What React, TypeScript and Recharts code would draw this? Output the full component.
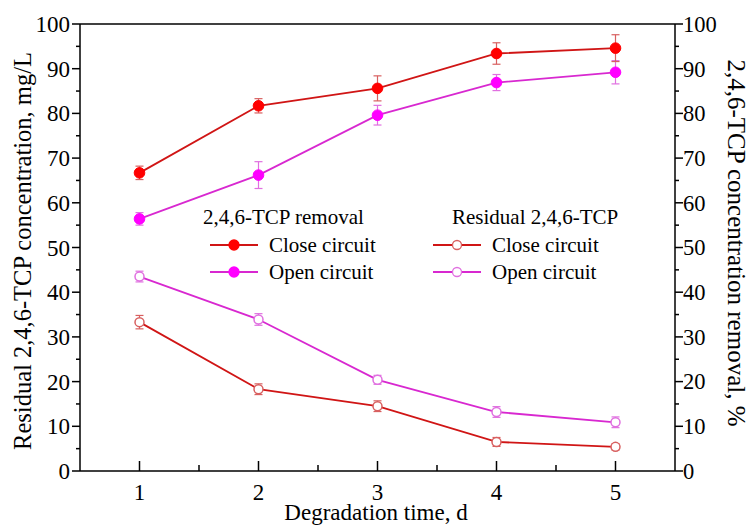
import React from 'react';
import { ComposedChart, Line, XAxis, YAxis, ErrorBar, ReferenceLine, Customized } from 'recharts';

const days = [1, 2, 3, 4, 5];
const removalClose = [66.7, 81.7, 85.6, 93.4, 94.6];
const removalCloseErr = [1.5, 1.6, 2.8, 2.4, 3.0];
const removalOpen = [56.4, 66.2, 79.6, 86.9, 89.2];
const removalOpenErr = [1.4, 3.0, 2.2, 1.8, 2.6];
const residualClose = [33.3, 18.3, 14.5, 6.5, 5.4];
const residualCloseErr = [1.5, 1.2, 1.2, 1.0, 0.7];
const residualOpen = [43.5, 33.9, 20.4, 13.2, 10.9];
const residualOpenErr = [1.2, 1.3, 1.0, 1.2, 1.2];

const yTicks = [0, 5, 10, 15, 20, 25, 30, 35, 40, 45, 50, 55, 60, 65, 70, 75, 80, 85, 90, 95, 100];
const xTicks = [1, 1.5, 2, 2.5, 3, 3.5, 4, 4.5, 5];

const data = days.map((d, i) => ({
  day: d,
  rc: removalClose[i], rcErr: removalCloseErr[i],
  ro: removalOpen[i], roErr: removalOpenErr[i],
  sc: residualClose[i], scErr: residualCloseErr[i],
  so: residualOpen[i], soErr: residualOpenErr[i],
}));

const FONT = "'Liberation Serif', 'Times New Roman', Times, serif";
const RED = '#ff0000';
const RED_LINE = '#d01515';
const RED_ERR = '#d86060';
const MAG = '#ff00ff';
const MAG_LINE = '#d828d0';
const MAG_ERR = '#e070e0';

const LeftTick = (props: any) => {
  const { x, y, payload } = props;
  const v = payload.value;
  const major = v % 10 === 0;
  return (
    <g>
      <line x1={x} x2={x - (major ? 8 : 4)} y1={y} y2={y} stroke="#000" strokeWidth={1.5} />
      {major && (
        <text x={x - 10} y={y} dy="0.35em" textAnchor="end" fontSize={23} style={{ fontFamily: FONT }} fill="#000">{v}</text>
      )}
    </g>
  );
};

const RightTick = (props: any) => {
  const { x, y, payload } = props;
  const v = payload.value;
  const major = v % 10 === 0;
  return (
    <g>
      <line x1={x} x2={x + (major ? 8 : 4)} y1={y} y2={y} stroke="#000" strokeWidth={1.5} />
      {major && (
        <text x={x + 8} y={y} dy="0.35em" textAnchor="start" fontSize={22.5} style={{ fontFamily: FONT }} fill="#000">{v}</text>
      )}
    </g>
  );
};

const BottomTick = (props: any) => {
  const { x, y, payload } = props;
  const v = payload.value;
  const major = Number.isInteger(v);
  return (
    <g>
      <line x1={x} x2={x} y1={y} y2={y - (major ? 10 : 6)} stroke="#000" strokeWidth={1.5} />
      {major && (
        <text x={x} y={y + 21} dy="0.35em" textAnchor="middle" fontSize={23} style={{ fontFamily: FONT }} fill="#000">{v}</text>
      )}
    </g>
  );
};

const Overlay = () => {
  const st = { fontFamily: FONT } as any;
  const row = (lx: number, cy: number, color: string, markerFill: string, markerStroke: string, r: number, label: string) => (
    <g>
      <line x1={lx} x2={lx + 48} y1={cy} y2={cy} stroke={color} strokeWidth={1.8} />
      <circle cx={lx + 24} cy={cy} r={r} fill={markerFill} stroke={markerStroke} strokeWidth={1.3} />
      <text x={lx + 59} y={cy} dy="0.35em" fontSize={21} fill="#000" style={st}>{label}</text>
    </g>
  );
  return (
    <g>
      <text x={203} y={217} dy="0.35em" fontSize={21} fill="#000" style={st}>2,4,6-TCP removal</text>
      {row(210, 245, RED_LINE, RED, RED, 5, 'Close circuit')}
      {row(210, 272, MAG_LINE, MAG, MAG, 5, 'Open circuit')}
      <text x={452} y={217} dy="0.35em" fontSize={21} fill="#000" style={st}>Residual 2,4,6-TCP</text>
      {row(433, 245, RED_LINE, '#fff', RED_ERR, 4.5, 'Close circuit')}
      {row(433, 272, MAG_LINE, '#fff', MAG_ERR, 4.5, 'Open circuit')}
      <text x={22} y={251} dy="0.35em" fontSize={24.5} textAnchor="middle" transform="rotate(-90 22 251)" fill="#000" style={st}>
        Residual 2,4,6-TCP concentration, mg/L
      </text>
      <text x={737} y={243} dy="0.35em" fontSize={25} textAnchor="middle" transform="rotate(90 737 243)" fill="#000" style={st}>
        2,4,6-TCP concentration removal, %
      </text>
      <text x={376} y={512} dy="0.35em" fontSize={23} textAnchor="middle" fill="#000" style={st}>Degradation time, d</text>
    </g>
  );
};

export default function App() {
  return (
    <div style={{ position: 'absolute', left: 0, top: 0, background: '#fff', fontFamily: FONT }}>
      <ComposedChart width={750} height={526} data={data} margin={{ top: 24, right: 0, bottom: 0, left: 0 }} style={{ fontFamily: FONT }}>
        <XAxis
          dataKey="day"
          type="number"
          domain={[0.5, 5.5]}
          ticks={xTicks}
          interval={0}
          height={55}
          tickSize={0}
          tickMargin={0}
          tickLine={false}
          axisLine={{ stroke: '#000', strokeWidth: 1.5 }}
          tick={<BottomTick />}
          allowDecimals
        />
        <YAxis
          yAxisId="left"
          orientation="left"
          domain={[0, 100]}
          ticks={yTicks}
          interval={0}
          width={80}
          tickSize={0}
          tickMargin={0}
          tickLine={false}
          axisLine={{ stroke: '#000', strokeWidth: 1.5 }}
          tick={<LeftTick />}
        />
        <YAxis
          yAxisId="right"
          orientation="right"
          domain={[0, 100]}
          ticks={yTicks}
          interval={0}
          width={75}
          tickSize={0}
          tickMargin={0}
          tickLine={false}
          axisLine={{ stroke: '#000', strokeWidth: 1.5 }}
          tick={<RightTick />}
        />
        <ReferenceLine yAxisId="left" y={100} stroke="#000" strokeWidth={1.5} />
        <Line yAxisId="left" dataKey="so" stroke={MAG_LINE} strokeWidth={1.8} isAnimationActive={false}
          dot={{ r: 4.5, fill: '#fff', stroke: MAG_ERR, strokeWidth: 1.5 }} activeDot={false}>
          <ErrorBar dataKey="soErr" width={4} stroke={MAG_ERR} strokeWidth={1.2} />
        </Line>
        <Line yAxisId="left" dataKey="sc" stroke={RED_LINE} strokeWidth={1.8} isAnimationActive={false}
          dot={{ r: 4.5, fill: '#fff', stroke: RED_ERR, strokeWidth: 1.5 }} activeDot={false}>
          <ErrorBar dataKey="scErr" width={4} stroke={RED_ERR} strokeWidth={1.2} />
        </Line>
        <Line yAxisId="right" dataKey="ro" stroke={MAG_LINE} strokeWidth={1.8} isAnimationActive={false}
          dot={{ r: 5.3, fill: MAG, stroke: MAG, strokeWidth: 1 }} activeDot={false}>
          <ErrorBar dataKey="roErr" width={4} stroke={MAG_ERR} strokeWidth={1.2} />
        </Line>
        <Line yAxisId="right" dataKey="rc" stroke={RED_LINE} strokeWidth={1.8} isAnimationActive={false}
          dot={{ r: 5.3, fill: RED, stroke: RED, strokeWidth: 1 }} activeDot={false}>
          <ErrorBar dataKey="rcErr" width={4} stroke={RED_ERR} strokeWidth={1.2} />
        </Line>
        <Customized component={<Overlay />} />
      </ComposedChart>
    </div>
  );
}
